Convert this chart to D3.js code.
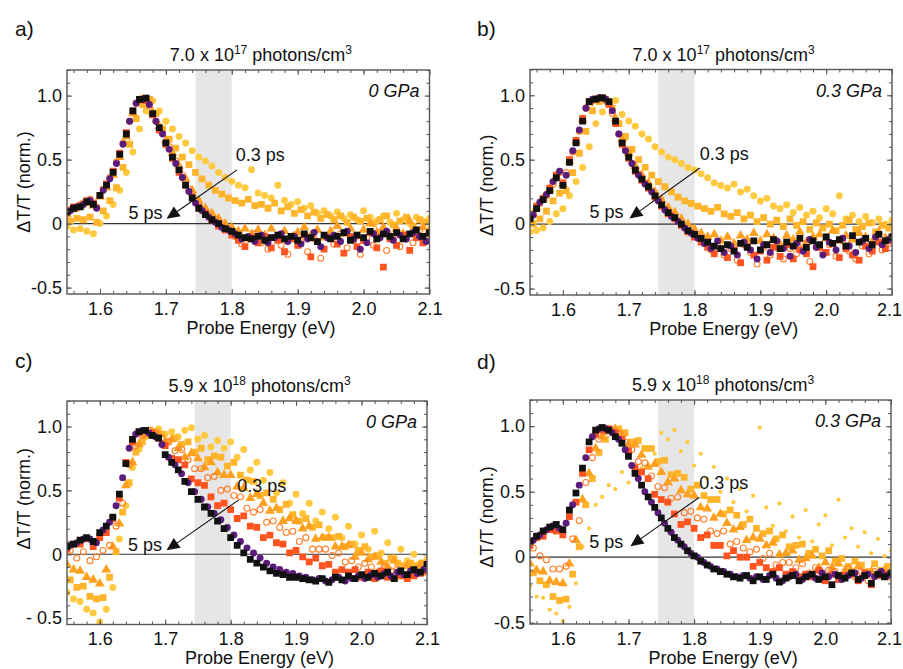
<!DOCTYPE html>
<html>
<head lang="en">
    <meta charset="utf-8">
    <script src="https://d3js.org/d3.v7.min.js"></script>
    <style>
        body { margin: 0; background: #fff; }
        svg text { font-family: "Liberation Sans", Arial, sans-serif; fill: #111; }
    </style>
</head>
<body>
<div id="chart"></div>
<script>
// probe energies (eV); two interleaved sampling grids
const energyA = [
    1.55, 1.56, 1.57, 1.58, 1.59,
    1.60, 1.61, 1.62, 1.63, 1.64,
    1.65, 1.66, 1.67, 1.68, 1.69,
    1.70, 1.71, 1.72, 1.73, 1.74,
    1.75, 1.76, 1.77, 1.78, 1.79,
    1.80, 1.81, 1.82, 1.83, 1.84,
    1.85, 1.86, 1.87, 1.88, 1.89,
    1.90, 1.91, 1.92, 1.93, 1.94,
    1.95, 1.96, 1.97, 1.98, 1.99,
    2.00, 2.01, 2.02, 2.03, 2.04,
    2.05, 2.06, 2.07, 2.08, 2.09,
    2.10];
const energyB = [
    1.555, 1.565, 1.575, 1.585, 1.595,
    1.605, 1.615, 1.625, 1.635, 1.645,
    1.655, 1.665, 1.675, 1.685, 1.695,
    1.705, 1.715, 1.725, 1.735, 1.745,
    1.755, 1.765, 1.775, 1.785, 1.795,
    1.805, 1.815, 1.825, 1.835, 1.845,
    1.855, 1.865, 1.875, 1.885, 1.895,
    1.905, 1.915, 1.925, 1.935, 1.945,
    1.955, 1.965, 1.975, 1.985, 1.995,
    2.005, 2.015, 2.025, 2.035, 2.045,
    2.055, 2.065, 2.075, 2.085, 2.095];

// pump-probe delays, earliest first
const delays = ["0.3 ps", "0.4 ps", "0.5 ps", "0.6 ps", "1 ps", "2 ps", "5 ps"];
const delayGrid = ["A", "B", "A", "B", "A", "B", "A"];
const delayColors = ["#FFC940", "#FFB52B", "#FFA01E", "#FF7F2A", "#FF5420", "#5C1C7C", "#111111"];
const delayMarkers = ["circle", "square", "triangle", "open", "square", "circle", "square"];

const xTicks = [1.6, 1.7, 1.8, 1.9, 2.0, 2.1];
const xTickLabels = ["1.6", "1.7", "1.8", "1.9", "2.0", "2.1"];
const yTicks = [-0.5, 0, 0.5, 1.0];
const yTickLabels = ["-0.5", "0", "0.5", "1.0"];
const yTickLabelsC = ["- 0.5", "0", "0.5", "1.0"];

// a) 7.0e17 photons/cm3, 0 GPa
const a_03 = [
    -0.02, -0.05, -0.04, -0.06, -0.08,
    0.00, 0.06, 0.15, 0.26, 0.40,
    0.56, 0.74, 0.88, 0.96, 0.88,
    0.80, 0.74, 0.68, 0.63, 0.57,
    0.52, 0.49, 0.45, 0.40, 0.36,
    0.33, 0.30, 0.28, 0.42, 0.24,
    0.22, 0.20, 0.30, 0.18, 0.15,
    0.17, 0.12, 0.14, 0.08, 0.10,
    0.06, 0.09, 0.04, 0.07, 0.03,
    0.10, 0.05, 0.02, 0.06, 0.01,
    0.08, 0.03, 0.00, 0.05, 0.02,
    0.04];
const a_04 = [
    0.02, 0.04, 0.03, 0.05, 0.01,
    0.10, 0.18, 0.28, 0.44, 0.62,
    0.82, 0.93, 0.97, 0.86, 0.74,
    0.66, 0.59, 0.52, 0.46, 0.40,
    0.35, 0.30, 0.26, 0.23, 0.20,
    0.18, 0.16, 0.19, 0.14, 0.15,
    0.12, 0.16, 0.10, 0.13, 0.08,
    0.11, 0.06, 0.09, 0.04, 0.07,
    0.03, 0.06, 0.01, 0.05, 0.02,
    0.04, 0.00, 0.03, 0.06, -0.01,
    0.02, 0.05, -0.02, 0.03, 0.01];
const a_05 = [
    0.07, 0.11, 0.14, 0.16, 0.14,
    0.21, 0.28, 0.38, 0.52, 0.68,
    0.86, 0.96, 0.97, 0.87, 0.76,
    0.65, 0.55, 0.45, 0.35, 0.26,
    0.18, 0.12, 0.08, 0.04, 0.00,
    -0.03, -0.06, -0.04, -0.08, -0.05,
    -0.09, -0.04, -0.10, -0.06, -0.12,
    -0.07, -0.03, -0.09, -0.05, -0.11,
    -0.06, -0.02, -0.08, -0.04, -0.10,
    -0.05, 0.00, -0.07, -0.03, -0.09,
    -0.04, -0.08, 0.02, -0.06, -0.03,
    -0.05];
const a_06 = [
    0.11, 0.12, 0.16, 0.19, 0.13,
    0.27, 0.36, 0.48, 0.63, 0.80,
    0.94, 0.98, 0.92, 0.80, 0.71,
    0.60, 0.49, 0.38, 0.27, 0.18,
    0.11, 0.06, 0.03, -0.01, -0.05,
    -0.10, -0.16, -0.12, -0.08, -0.15,
    -0.20, -0.11, -0.17, -0.24, -0.09,
    -0.14, -0.22, -0.12, -0.27, -0.10,
    -0.16, -0.08, -0.19, -0.13, -0.24,
    -0.11, -0.17, -0.07, -0.21, -0.12,
    -0.18, -0.09, -0.15, -0.05, -0.12];
const a_1 = [
    0.10, 0.13, 0.14, 0.18, 0.16,
    0.22, 0.31, 0.41, 0.55, 0.71,
    0.88, 0.97, 0.96, 0.85, 0.73,
    0.62, 0.51, 0.40, 0.30, 0.21,
    0.13, 0.08, 0.03, -0.02, -0.05,
    -0.09, -0.13, -0.18, -0.11, -0.15,
    -0.10, -0.19, -0.13, -0.22, -0.12,
    -0.17, -0.09, -0.26, -0.14, -0.20,
    -0.11, -0.16, -0.23, -0.10, -0.18,
    -0.13, -0.07, -0.19, -0.34, -0.12,
    -0.17, -0.09, -0.21, -0.11, -0.15,
    -0.08];
const a_2 = [
    0.10, 0.13, 0.15, 0.18, 0.12,
    0.26, 0.35, 0.47, 0.62, 0.80,
    0.94, 0.97, 0.93, 0.80, 0.70,
    0.58, 0.47, 0.36, 0.25, 0.16,
    0.10, 0.05, 0.01, -0.03, -0.05,
    -0.08, -0.12, -0.10, -0.14, -0.09,
    -0.15, -0.11, -0.08, -0.14, -0.10,
    -0.16, -0.12, -0.07, -0.18, -0.11,
    -0.09, -0.14, -0.06, -0.12, -0.20,
    -0.15, -0.08, -0.11, -0.06, -0.13,
    -0.09, -0.12, -0.07, -0.10, -0.14];
const a_5 = [
    0.09, 0.12, 0.13, 0.17, 0.15,
    0.22, 0.30, 0.40, 0.54, 0.70,
    0.88, 0.97, 0.98, 0.86, 0.75,
    0.63, 0.52, 0.42, 0.30, 0.20,
    0.12, 0.07, 0.03, 0.00, -0.04,
    -0.06, -0.09, -0.11, -0.12, -0.10,
    -0.13, -0.11, -0.09, -0.12, -0.10,
    -0.13, -0.08, -0.11, -0.14, -0.09,
    -0.12, -0.10, -0.07, -0.13, -0.09,
    -0.11, -0.06, -0.12, -0.08, -0.10,
    -0.07, -0.12, -0.08, -0.05, -0.10,
    -0.07];

// b) 7.0e17 photons/cm3, 0.3 GPa
const b_03 = [
    -0.06, -0.05, -0.03, 0.02, 0.08,
    0.12, 0.22, 0.33, 0.44, 0.60,
    0.78, 0.87, 0.93, 0.96, 0.85,
    0.80, 0.76, 0.70, 0.66, 0.60,
    0.56, 0.52, 0.50, 0.47, 0.44,
    0.42, 0.39, 0.36, 0.32, 0.30,
    0.28, 0.31, 0.25, 0.27, 0.22,
    0.18, 0.20, 0.14, 0.12, 0.15,
    0.09, 0.13, 0.07, 0.10, 0.05,
    0.12, 0.08, 0.22, 0.04, 0.07,
    0.02, 0.06, 0.01, 0.04, 0.00,
    0.03];
const b_04 = [
    0.00, 0.04, 0.10, 0.18, 0.24,
    0.26, 0.40, 0.55, 0.72, 0.88,
    0.95, 0.97, 0.90, 0.78, 0.68,
    0.58, 0.50, 0.44, 0.38, 0.33,
    0.29, 0.25, 0.21, 0.18, 0.16,
    0.14, 0.12, 0.10, 0.13, 0.08,
    0.06, 0.09, 0.04, 0.07, 0.02,
    0.05, 0.00, 0.03, -0.02, 0.04,
    -0.01, 0.02, -0.04, 0.01, -0.03,
    0.00, -0.05, -0.01, 0.03, -0.04,
    -0.02, 0.01, -0.06, -0.01, -0.03];
const b_05 = [
    0.05, 0.13, 0.20, 0.27, 0.37,
    0.31, 0.49, 0.64, 0.81, 0.94,
    0.96, 0.97, 0.94, 0.82, 0.66,
    0.55, 0.45, 0.38, 0.32, 0.25,
    0.19, 0.13, 0.09, 0.04, 0.00,
    -0.04, -0.07, -0.10, -0.08, -0.13,
    -0.10, -0.15, -0.09, -0.12, -0.07,
    -0.13, -0.08, -0.11, -0.16, -0.09,
    -0.12, -0.06, -0.14, -0.10, -0.08,
    -0.11, -0.05, -0.13, -0.09, -0.12,
    -0.07, -0.10, -0.14, -0.06, -0.11,
    -0.09];
const b_06 = [
    0.08, 0.16, 0.22, 0.31, 0.40,
    0.40, 0.56, 0.72, 0.90, 0.96,
    0.98, 0.96, 0.86, 0.70, 0.58,
    0.47, 0.39, 0.32, 0.26, 0.19,
    0.12, 0.07, 0.02, -0.03, -0.06,
    -0.10, -0.15, -0.20, -0.17, -0.24,
    -0.19, -0.28, -0.16, -0.22, -0.31,
    -0.18, -0.24, -0.14, -0.27, -0.19,
    -0.23, -0.15, -0.29, -0.18, -0.22,
    -0.16, -0.25, -0.13, -0.21, -0.27,
    -0.17, -0.23, -0.12, -0.20, -0.15];
const b_1 = [
    0.06, 0.14, 0.20, 0.28, 0.38,
    0.32, 0.50, 0.65, 0.82, 0.95,
    0.97, 0.98, 0.93, 0.78, 0.62,
    0.51, 0.41, 0.34, 0.28, 0.21,
    0.14, 0.08, 0.04, -0.01, -0.06,
    -0.10, -0.14, -0.18, -0.23, -0.19,
    -0.26, -0.20, -0.30, -0.17, -0.24,
    -0.21, -0.28, -0.18, -0.25, -0.16,
    -0.27, -0.20, -0.23, -0.33, -0.18,
    -0.22, -0.15, -0.26, -0.19, -0.24,
    -0.28, -0.17, -0.21, -0.14, -0.19,
    -0.13];
const b_2 = [
    0.07, 0.17, 0.23, 0.33, 0.41,
    0.38, 0.57, 0.73, 0.90, 0.97,
    0.98, 0.97, 0.88, 0.70, 0.57,
    0.47, 0.38, 0.31, 0.25, 0.18,
    0.11, 0.06, 0.02, -0.03, -0.07,
    -0.11, -0.15, -0.19, -0.13, -0.22,
    -0.17, -0.24, -0.14, -0.20, -0.27,
    -0.16, -0.22, -0.13, -0.19, -0.25,
    -0.15, -0.21, -0.12, -0.18, -0.24,
    -0.14, -0.20, -0.11, -0.17, -0.22,
    -0.13, -0.19, -0.10, -0.16, -0.12];
const b_5 = [
    0.04, 0.12, 0.19, 0.26, 0.36,
    0.30, 0.48, 0.63, 0.80, 0.95,
    0.97, 0.98, 0.95, 0.80, 0.63,
    0.52, 0.42, 0.35, 0.29, 0.22,
    0.15, 0.09, 0.05, 0.00, -0.05,
    -0.08, -0.11, -0.14, -0.17, -0.19,
    -0.16, -0.21, -0.15, -0.18, -0.13,
    -0.20, -0.16, -0.12, -0.19, -0.14,
    -0.17, -0.11, -0.18, -0.13, -0.16,
    -0.10, -0.15, -0.12, -0.17, -0.09,
    -0.14, -0.11, -0.16, -0.08, -0.13,
    -0.10];

// c) 5.9e18 photons/cm3, 0 GPa
const c_03 = [
    -0.30, -0.35, -0.37, -0.43, -0.46,
    -0.53, -0.43, -0.26, 0.12, 0.38,
    0.68, 0.82, 0.92, 0.93, 0.98,
    0.94, 0.96, 0.92, 0.97, 0.99,
    0.90, 0.93, 0.84, 0.89, 0.83,
    0.88, 0.76, 0.82, 0.66, 0.72,
    0.58, 0.64, 0.48, 0.56, 0.40,
    0.47, 0.32, 0.40, 0.26, 0.33,
    0.20, 0.29, 0.13, 0.22, 0.08,
    0.15, 0.04, 0.18, 0.01, 0.09,
    -0.03, 0.04, -0.05, 0.00, -0.07,
    -0.04];
const c_04 = [
    -0.20, -0.26, -0.25, -0.33, -0.35,
    -0.34, -0.18, 0.02, 0.33, 0.56,
    0.80, 0.88, 0.94, 0.96, 0.94,
    0.88, 0.91, 0.86, 0.88, 0.80,
    0.83, 0.74, 0.77, 0.76, 0.69,
    0.72, 0.62, 0.58, 0.57, 0.46,
    0.48, 0.43, 0.35, 0.39, 0.31,
    0.26, 0.28, 0.21, 0.23, 0.13,
    0.13, 0.14, 0.06, 0.08, 0.03,
    0.06, -0.02, -0.01, -0.07, -0.03,
    -0.07, -0.09, -0.07, -0.09, -0.07];
const c_05 = [
    -0.08, -0.12, -0.13, -0.18, -0.20,
    -0.23, -0.12, 0.06, 0.24, 0.54,
    0.72, 0.86, 0.93, 0.96, 0.94,
    0.88, 0.90, 0.83, 0.76, 0.79,
    0.75, 0.68, 0.72, 0.64, 0.62,
    0.62, 0.53, 0.52, 0.44, 0.47,
    0.40, 0.34, 0.36, 0.26, 0.28,
    0.26, 0.20, 0.22, 0.12, 0.13,
    0.13, 0.06, 0.06, 0.07, -0.02,
    0.01, -0.04, -0.02, -0.06, -0.10,
    -0.05, -0.14, -0.09, -0.14, -0.08,
    -0.13];
const c_06 = [
    0.03, -0.03, 0.02, -0.05, -0.02,
    0.03, 0.07, 0.22, 0.40, 0.70,
    0.85, 0.93, 0.97, 0.95, 0.91,
    0.88, 0.81, 0.82, 0.74, 0.67,
    0.67, 0.60, 0.61, 0.50, 0.51,
    0.46, 0.45, 0.36, 0.33, 0.35,
    0.25, 0.26, 0.21, 0.17, 0.18,
    0.10, 0.13, 0.04, 0.04, 0.04,
    -0.01, 0.01, -0.06, -0.05, -0.10,
    -0.07, -0.10, -0.14, -0.10, -0.13,
    -0.12, -0.16, -0.14, -0.14, -0.14];
const c_1 = [
    0.04, 0.08, 0.08, 0.12, 0.06,
    0.13, 0.17, 0.28, 0.44, 0.72,
    0.88, 0.95, 0.97, 0.95, 0.91,
    0.85, 0.75, 0.74, 0.70, 0.59,
    0.56, 0.54, 0.45, 0.38, 0.40,
    0.35, 0.28, 0.30, 0.22, 0.21,
    0.13, 0.15, 0.09, 0.08, 0.01,
    0.03, -0.02, -0.06, -0.03, -0.09,
    -0.08, -0.14, -0.12, -0.14, -0.12,
    -0.18, -0.14, -0.19, -0.13, -0.18,
    -0.19, -0.17, -0.19, -0.17, -0.15,
    -0.13];
const c_2 = [
    0.07, 0.09, 0.12, 0.12, 0.09,
    0.19, 0.25, 0.38, 0.60, 0.83,
    0.94, 0.97, 0.95, 0.92, 0.86,
    0.76, 0.70, 0.63, 0.56, 0.49,
    0.43, 0.37, 0.32, 0.27, 0.21,
    0.15, 0.10, 0.05, 0.01, -0.03,
    -0.07, -0.10, -0.12, -0.14, -0.15,
    -0.17, -0.18, -0.20, -0.19, -0.21,
    -0.20, -0.18, -0.21, -0.19, -0.17,
    -0.19, -0.16, -0.18, -0.15, -0.17,
    -0.14, -0.16, -0.13, -0.15, -0.12];
const c_5 = [
    0.06, 0.08, 0.11, 0.13, 0.10,
    0.17, 0.22, 0.29, 0.47, 0.71,
    0.90, 0.96, 0.97, 0.93, 0.91,
    0.78, 0.72, 0.66, 0.57, 0.49,
    0.43, 0.37, 0.32, 0.26, 0.20,
    0.13, 0.07, 0.01, -0.04, -0.07,
    -0.10, -0.13, -0.15, -0.16, -0.18,
    -0.18, -0.19, -0.20, -0.21, -0.19,
    -0.22, -0.18, -0.20, -0.17, -0.19,
    -0.16, -0.18, -0.15, -0.17, -0.14,
    -0.19, -0.13, -0.16, -0.12, -0.14,
    -0.08];

// d) 5.9e18 photons/cm3, 0.3 GPa
const d_03 = [
    -0.22, -0.30, -0.31, -0.40, -0.43,
    -0.49, -0.38, -0.20, 0.08, 0.22,
    0.40, 0.46, 0.55, 0.52, 0.65,
    0.57, 0.70, 0.68, 0.84, 0.79,
    0.95, 0.90, 0.97, 0.81, 0.88,
    0.70, 0.79, 0.60, 0.69, 0.50,
    0.60, 0.42, 0.52, 0.35, 0.47,
    0.99, 0.38, 0.24, 0.41, 0.20,
    0.31, 0.15, 0.36, 0.12, 0.25,
    0.32, 0.09, 0.44, 0.15, 0.22,
    0.08, 0.19, 0.03, 0.14, 0.01,
    0.05];
const d_04 = [
    -0.12, -0.18, -0.21, -0.30, -0.33,
    -0.32, -0.13, 0.08, 0.40, 0.60,
    0.80, 0.90, 0.96, 0.98, 0.95,
    0.88, 0.89, 0.83, 0.83, 0.73,
    0.74, 0.63, 0.64, 0.61, 0.52,
    0.55, 0.47, 0.44, 0.44, 0.33,
    0.36, 0.32, 0.25, 0.29, 0.22,
    0.18, 0.20, 0.14, 0.17, 0.08,
    0.09, 0.10, 0.03, 0.06, 0.01,
    0.05, -0.03, -0.01, -0.07, -0.03,
    -0.06, -0.11, -0.05, -0.10, -0.07];
const d_05 = [
    -0.05, -0.10, -0.11, -0.18, -0.19,
    -0.20, -0.05, 0.13, 0.44, 0.64,
    0.83, 0.92, 0.97, 0.98, 0.94,
    0.86, 0.86, 0.78, 0.69, 0.71,
    0.65, 0.57, 0.60, 0.51, 0.48,
    0.47, 0.38, 0.37, 0.30, 0.33,
    0.26, 0.21, 0.23, 0.13, 0.15,
    0.14, 0.09, 0.11, 0.02, 0.03,
    0.05, -0.02, -0.01, 0.01, -0.08,
    -0.04, -0.08, -0.05, -0.10, -0.11,
    -0.07, -0.13, -0.11, -0.13, -0.10,
    -0.12];
const d_06 = [
    0.07, 0.01, -0.02, -0.09, -0.09,
    -0.07, 0.14, 0.28, 0.57, 0.76,
    0.90, 0.96, 0.97, 0.94, 0.88,
    0.82, 0.73, 0.72, 0.62, 0.54,
    0.53, 0.45, 0.46, 0.34, 0.35,
    0.30, 0.29, 0.20, 0.18, 0.20,
    0.10, 0.12, 0.07, 0.04, 0.06,
    -0.01, 0.03, -0.06, -0.04, -0.04,
    -0.08, -0.05, -0.12, -0.08, -0.14,
    -0.10, -0.11, -0.16, -0.09, -0.15,
    -0.11, -0.18, -0.11, -0.14, -0.15];
const d_1 = [
    0.09, 0.15, 0.16, 0.21, 0.20,
    0.17, 0.31, 0.42, 0.64, 0.82,
    0.94, 0.97, 0.98, 0.95, 0.90,
    0.81, 0.68, 0.65, 0.60, 0.48,
    0.44, 0.42, 0.33, 0.25, 0.27,
    0.22, 0.15, 0.17, 0.09, 0.09,
    0.01, 0.05, 0.00, 0.00, -0.07,
    -0.04, -0.08, -0.11, -0.08, -0.13,
    -0.11, -0.15, -0.13, -0.15, -0.10,
    -0.18, -0.13, -0.17, -0.14, -0.13,
    -0.18, -0.12, -0.21, -0.14, -0.13,
    -0.13];
const d_2 = [
    0.13, 0.17, 0.21, 0.24, 0.22,
    0.26, 0.40, 0.55, 0.76, 0.92,
    0.98, 0.98, 0.95, 0.90, 0.82,
    0.70, 0.60, 0.50, 0.42, 0.34,
    0.26, 0.19, 0.13, 0.08, 0.03,
    0.00, -0.04, -0.07, -0.09, -0.11,
    -0.13, -0.15, -0.14, -0.16, -0.15,
    -0.17, -0.14, -0.16, -0.18, -0.15,
    -0.13, -0.17, -0.14, -0.16, -0.12,
    -0.15, -0.13, -0.17, -0.14, -0.12,
    -0.16, -0.13, -0.15, -0.11, -0.14];
const d_5 = [
    0.12, 0.16, 0.20, 0.23, 0.25,
    0.21, 0.36, 0.49, 0.68, 0.88,
    0.97, 0.99, 0.97, 0.92, 0.87,
    0.77, 0.64, 0.55, 0.46, 0.38,
    0.30, 0.22, 0.15, 0.10, 0.05,
    0.01, -0.03, -0.06, -0.09, -0.11,
    -0.13, -0.15, -0.16, -0.14, -0.18,
    -0.15, -0.17, -0.13, -0.19, -0.16,
    -0.14, -0.18, -0.15, -0.13, -0.17,
    -0.15, -0.21, -0.14, -0.16, -0.12,
    -0.17, -0.14, -0.20, -0.13, -0.15,
    -0.12];

const xDomain = [1.55, 2.1];
const grayBand = [1.745, 1.8];

const panels = [
    {id: "a", tag: "a)", tagX: 15, tagY: 36, left: 67, right: 429.5, top: 70, bottom: 294,
     yDomain: [-0.55, 1.2], base: "7.0 x 10", exp: "17", pressure: "0 GPa", yLabels: yTickLabels, yTitleShift: 0,
     series: [a_03, a_04, a_05, a_06, a_1, a_2, a_5],
     arrowFrom: [1.808, 0.42], arrowTo: [1.701, 0.037], label03: [1.806, 0.49], label5: [1.695, 0.037]},
    {id: "b", tag: "b)", tagX: 477, tagY: 36, left: 530, right: 892, top: 69.5, bottom: 295,
     yDomain: [-0.55, 1.2], base: "7.0 x 10", exp: "17", pressure: "0.3 GPa", yLabels: yTickLabels, yTitleShift: 3,
     series: [b_03, b_04, b_05, b_06, b_1, b_2, b_5],
     arrowFrom: [1.808, 0.436], arrowTo: [1.701, 0.044], label03: [1.808, 0.50], label5: [1.692, 0.044]},
    {id: "c", tag: "c)", tagX: 15, tagY: 368, left: 67, right: 427, top: 401, bottom: 624.5,
     yDomain: [-0.55, 1.2], base: "5.9 x 10", exp: "18", pressure: "0 GPa", yLabels: yTickLabelsC, yTitleShift: -14,
     series: [c_03, c_04, c_05, c_06, c_1, c_2, c_5],
     arrowFrom: [1.812, 0.424], arrowTo: [1.702, 0.031], label03: [1.810, 0.49], label5: [1.695, 0.026]},
    {id: "d", tag: "d)", tagX: 477, tagY: 369, left: 530, right: 891, top: 400, bottom: 624,
     yDomain: [-0.51, 1.2], base: "5.9 x 10", exp: "18", pressure: "0.3 GPa", yLabels: yTickLabels, yTitleShift: 5,
     series: [d_03, d_04, d_05, d_06, d_1, d_2, d_5],
     arrowFrom: [1.808, 0.458], arrowTo: [1.703, 0.084], label03: [1.808, 0.52], label5: [1.692, 0.072]}
];

const svg = d3.select("#chart").append("svg")
    .attr("width", 903)
    .attr("height", 669);

const frameColor = "#555";

panels.forEach(p => {
    const x = d3.scaleLinear().domain(xDomain).range([p.left, p.right]);
    const y = d3.scaleLinear().domain(p.yDomain).range([p.bottom, p.top]);
    const g = svg.append("g");

    svg.append("clipPath").attr("id", "clip-" + p.id)
        .append("rect")
        .attr("x", p.left).attr("y", p.top)
        .attr("width", p.right - p.left).attr("height", p.bottom - p.top);

    // shaded probe window
    g.append("rect")
        .attr("x", x(grayBand[0]))
        .attr("y", p.top)
        .attr("width", x(grayBand[1]) - x(grayBand[0]))
        .attr("height", p.bottom - p.top)
        .attr("fill", "#e6e6e6");

    // zero line
    g.append("line")
        .attr("x1", p.left).attr("x2", p.right)
        .attr("y1", y(0)).attr("y2", y(0))
        .attr("stroke", "#333")
        .attr("stroke-width", 1.2);

    // data points, earliest delay at the bottom
    const pts = g.append("g").attr("clip-path", `url(#clip-${p.id})`);
    p.series.forEach((vals, k) => {
        const grid = delayGrid[k] === "A" ? energyA : energyB;
        const data = vals.map((v, i) => ({e: grid[i], v: v}));
        const marker = delayMarkers[k];
        let size = marker === "square" ? 46 : marker === "triangle" ? 42 : marker === "open" ? 28 : 38;
        if (p.id === "d" && k === 0) size = 14;
        const type = marker === "square" ? d3.symbolSquare
            : marker === "triangle" ? d3.symbolTriangle : d3.symbolCircle;
        const symbol = d3.symbol().type(type).size(size);
        pts.append("g")
            .attr("class", "delay")
            .attr("data-delay", delays[k])
            .selectAll("path")
            .data(data)
            .join("path")
            .attr("transform", d => `translate(${x(d.e)},${y(d.v)})`)
            .attr("d", symbol)
            .attr("fill", marker === "open" ? "none" : delayColors[k])
            .attr("stroke", marker === "open" ? delayColors[k] : "none")
            .attr("stroke-width", 1.1);
    });

    // axes: inward ticks on all four sides
    const xMinor = d3.range(1.56, 2.1, 0.02);
    const yMinor = d3.range(-0.5, 1.21, 0.1);
    const styleAxis = sel => {
        sel.select(".domain").remove();
        sel.selectAll("line").attr("stroke", frameColor).attr("stroke-width", 1);
        sel.selectAll("text").attr("font-size", 18).attr("font-family", null).attr("fill", "#111");
    };

    g.append("g").attr("transform", `translate(0,${p.bottom})`)
        .call(d3.axisBottom(x).tickValues(xMinor).tickSize(-3).tickFormat("")).call(styleAxis);
    g.append("g").attr("transform", `translate(0,${p.bottom})`)
        .call(d3.axisBottom(x).tickValues(xTicks).tickSizeInner(-5).tickSizeOuter(0).tickPadding(8)
            .tickFormat((d, i) => xTickLabels[i])).call(styleAxis)
        .selectAll(".tick text")
        .attr("dx", d => Math.min(0, 901.5 - (x(d) + 12.5)));
    g.append("g").attr("transform", `translate(0,${p.top})`)
        .call(d3.axisTop(x).tickValues(xMinor).tickSize(-3).tickFormat("")).call(styleAxis);
    g.append("g").attr("transform", `translate(0,${p.top})`)
        .call(d3.axisTop(x).tickValues(xTicks).tickSize(-5).tickFormat("")).call(styleAxis);

    g.append("g").attr("transform", `translate(${p.left},0)`)
        .call(d3.axisLeft(y).tickValues(yMinor).tickSize(-3).tickFormat("")).call(styleAxis);
    g.append("g").attr("transform", `translate(${p.left},0)`)
        .call(d3.axisLeft(y).tickValues(yTicks).tickSizeInner(-5).tickSizeOuter(0).tickPadding(5)
            .tickFormat((d, i) => p.yLabels[i])).call(styleAxis);
    g.append("g").attr("transform", `translate(${p.right},0)`)
        .call(d3.axisRight(y).tickValues(yMinor).tickSize(-3).tickFormat("")).call(styleAxis);
    g.append("g").attr("transform", `translate(${p.right},0)`)
        .call(d3.axisRight(y).tickValues(yTicks).tickSize(-5).tickFormat("")).call(styleAxis);

    // frame
    g.append("rect")
        .attr("x", p.left).attr("y", p.top)
        .attr("width", p.right - p.left).attr("height", p.bottom - p.top)
        .attr("fill", "none")
        .attr("stroke", frameColor)
        .attr("stroke-width", 1.4);

    // panel letter
    g.append("text")
        .attr("x", p.tagX).attr("y", p.tagY)
        .attr("font-size", 21)
        .text(p.tag);

    // fluence title with superscripts
    const cx = p.left + 0.535 * (p.right - p.left);
    const title = g.append("text")
        .attr("x", cx).attr("y", p.top - 9)
        .attr("text-anchor", "middle")
        .attr("font-size", 18);
    title.append("tspan").text(p.base);
    title.append("tspan").attr("dy", -7).attr("font-size", 12).text(p.exp);
    title.append("tspan").attr("dy", 7).text(" photons/cm");
    title.append("tspan").attr("dy", -7).attr("font-size", 12).text("3");

    // pressure
    g.append("text")
        .attr("x", p.right - 10).attr("y", p.top + 27)
        .attr("text-anchor", "end")
        .attr("font-size", 18)
        .attr("font-style", "italic")
        .text(p.pressure);

    // axis titles
    g.append("text")
        .attr("x", cx).attr("y", p.bottom + 39.5)
        .attr("text-anchor", "middle")
        .attr("font-size", 18)
        .text("Probe Energy (eV)");
    g.append("text")
        .attr("transform", `translate(${p.left - 37.5},${(p.top + p.bottom) / 2 + p.yTitleShift}) rotate(-90)`)
        .attr("text-anchor", "middle")
        .attr("font-size", 18)
        .text("\u0394T/T (norm.)");

    // delay arrow 0.3 ps -> 5 ps
    const x1 = x(p.arrowFrom[0]), y1 = y(p.arrowFrom[1]);
    const x2 = x(p.arrowTo[0]), y2 = y(p.arrowTo[1]);
    const ang = Math.atan2(y2 - y1, x2 - x1);
    const headLen = 13, headHalf = 6;
    const bx = x2 - headLen * Math.cos(ang), by = y2 - headLen * Math.sin(ang);
    g.append("line")
        .attr("x1", x1).attr("y1", y1).attr("x2", bx).attr("y2", by)
        .attr("stroke", "#111").attr("stroke-width", 1.1);
    g.append("path")
        .attr("d", `M${x2},${y2}L${bx + headHalf * Math.sin(ang)},${by - headHalf * Math.cos(ang)}` +
            `L${bx - headHalf * Math.sin(ang)},${by + headHalf * Math.cos(ang)}Z`)
        .attr("fill", "#111");

    g.append("text")
        .attr("x", x(p.label03[0])).attr("y", y(p.label03[1]))
        .attr("font-size", 18)
        .text("0.3 ps");
    g.append("text")
        .attr("x", x(p.label5[0])).attr("y", y(p.label5[1]))
        .attr("text-anchor", "end")
        .attr("font-size", 18)
        .text("5 ps");
});
</script>
</body>
</html>
